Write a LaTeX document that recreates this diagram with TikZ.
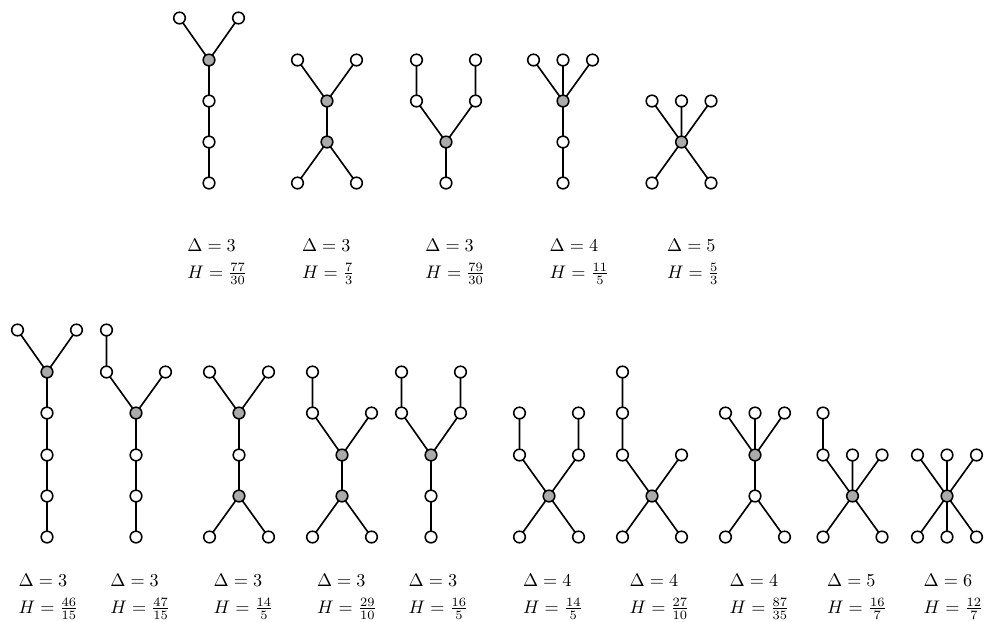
\documentclass[tikz,border=0pt]{standalone}
\usetikzlibrary{backgrounds}
\begin{document}
\begin{tikzpicture}[x=0.55pt,y=-0.55pt,
  w/.style={circle,draw=black,line width=0.85pt,fill=white,inner sep=0pt,minimum size=6.4pt},
  g/.style={w,fill=black!33},
  e/.style={line width=0.9pt},
  lab/.style={anchor=north west,inner sep=0pt,align=left,font=\normalsize}]
\useasboundingbox (0,0) rectangle (990,621);
% ---------- top row ----------
% T1
\node[w] (t1a) at (179.5,18) {};
\node[w] (t1b) at (238.5,18) {};
\node[g] (t1c) at (209,60) {};
\node[w] (t1d) at (209,101) {};
\node[w] (t1e) at (209,142) {};
\node[w] (t1f) at (209,183) {};
% T2
\node[w] (t2a) at (297.5,60) {};
\node[w] (t2b) at (356.5,60) {};
\node[g] (t2c) at (327,101) {};
\node[g] (t2d) at (327,142) {};
\node[w] (t2e) at (297.5,183) {};
\node[w] (t2f) at (356.5,183) {};
% T3
\node[w] (t3a) at (416.5,60) {};
\node[w] (t3b) at (475.5,60) {};
\node[w] (t3c) at (416.5,101) {};
\node[w] (t3d) at (475.5,101) {};
\node[g] (t3g) at (446,142) {};
\node[w] (t3h) at (446,183) {};
% T4
\node[w] (t4a) at (533.5,60) {};
\node[w] (t4b) at (563,60) {};
\node[w] (t4c) at (592.5,60) {};
\node[g] (t4g) at (563,101) {};
\node[w] (t4d) at (563,142) {};
\node[w] (t4e) at (563,183) {};
% T5
\node[w] (t5a) at (652,101) {};
\node[w] (t5b) at (681.5,101) {};
\node[w] (t5c) at (711,101) {};
\node[g] (t5g) at (681.5,142) {};
\node[w] (t5d) at (652,183) {};
\node[w] (t5e) at (711,183) {};
% ---------- bottom row ----------
% B1
\node[w] (b1a) at (17.5,330) {};
\node[w] (b1b) at (76.5,330) {};
\node[g] (b1c) at (47,372) {};
\node[w] (b1d) at (47,413) {};
\node[w] (b1e) at (47,455) {};
\node[w] (b1f) at (47,496) {};
\node[w] (b1h) at (47,537) {};
% B2
\node[w] (b2a) at (106.5,330) {};
\node[w] (b2b) at (106.5,372) {};
\node[w] (b2c) at (165.5,372) {};
\node[g] (b2g) at (136,413) {};
\node[w] (b2d) at (136,455) {};
\node[w] (b2e) at (136,496) {};
\node[w] (b2f) at (136,537) {};
% B3
\node[w] (b3a) at (209.5,372) {};
\node[w] (b3b) at (268.5,372) {};
\node[g] (b3c) at (239,413) {};
\node[w] (b3d) at (239,455) {};
\node[g] (b3e) at (239,496) {};
\node[w] (b3f) at (209.5,537) {};
\node[w] (b3h) at (268.5,537) {};
% B4
\node[w] (b4a) at (312.5,372) {};
\node[w] (b4b) at (312.5,413) {};
\node[w] (b4c) at (371.5,413) {};
\node[g] (b4d) at (342,455) {};
\node[g] (b4e) at (342,496) {};
\node[w] (b4f) at (312.5,537) {};
\node[w] (b4h) at (371.5,537) {};
% B5
\node[w] (b5a) at (401.5,372) {};
\node[w] (b5b) at (460.5,372) {};
\node[w] (b5c) at (401.5,413) {};
\node[w] (b5d) at (460.5,413) {};
\node[g] (b5g) at (431,455) {};
\node[w] (b5e) at (431,496) {};
\node[w] (b5f) at (431,537) {};
% B6
\node[w] (b6a) at (519.5,413) {};
\node[w] (b6b) at (578.5,413) {};
\node[w] (b6c) at (519.5,455) {};
\node[w] (b6d) at (578.5,455) {};
\node[g] (b6g) at (549,496) {};
\node[w] (b6e) at (519.5,537) {};
\node[w] (b6f) at (578.5,537) {};
% B7
\node[w] (b7a) at (622.5,372) {};
\node[w] (b7b) at (622.5,413) {};
\node[w] (b7c) at (622.5,455) {};
\node[w] (b7d) at (681.5,455) {};
\node[g] (b7g) at (652,496) {};
\node[w] (b7e) at (622.5,537) {};
\node[w] (b7f) at (681.5,537) {};
% B8
\node[w] (b8a) at (725.5,413) {};
\node[w] (b8b) at (755,413) {};
\node[w] (b8c) at (784.5,413) {};
\node[g] (b8g) at (755,455) {};
\node[w] (b8d) at (755,496) {};
\node[w] (b8e) at (725.5,537) {};
\node[w] (b8f) at (784.5,537) {};
% B9
\node[w] (b9a) at (823,413) {};
\node[w] (b9b) at (823,455) {};
\node[w] (b9c) at (852.5,455) {};
\node[w] (b9d) at (882,455) {};
\node[g] (b9g) at (852.5,496) {};
\node[w] (b9e) at (823,537) {};
\node[w] (b9f) at (882,537) {};
% B10
\node[w] (c0a) at (917.5,455) {};
\node[w] (c0b) at (947,455) {};
\node[w] (c0c) at (976.5,455) {};
\node[g] (c0g) at (947,496) {};
\node[w] (c0d) at (917.5,537) {};
\node[w] (c0e) at (947,537) {};
\node[w] (c0f) at (976.5,537) {};
% ---------- edges (behind nodes) ----------
\begin{pgfonlayer}{background}
\draw[e] (t1a.center)--(t1c.center) (t1b.center)--(t1c.center) (t1c.center)--(t1d.center) (t1d.center)--(t1e.center) (t1e.center)--(t1f.center);
\draw[e] (t2a.center)--(t2c.center) (t2b.center)--(t2c.center) (t2c.center)--(t2d.center) (t2d.center)--(t2e.center) (t2d.center)--(t2f.center);
\draw[e] (t3a.center)--(t3c.center) (t3b.center)--(t3d.center) (t3c.center)--(t3g.center) (t3d.center)--(t3g.center) (t3g.center)--(t3h.center);
\draw[e] (t4a.center)--(t4g.center) (t4b.center)--(t4g.center) (t4c.center)--(t4g.center) (t4g.center)--(t4d.center) (t4d.center)--(t4e.center);
\draw[e] (t5a.center)--(t5g.center) (t5b.center)--(t5g.center) (t5c.center)--(t5g.center) (t5g.center)--(t5d.center) (t5g.center)--(t5e.center);
\draw[e] (b1a.center)--(b1c.center) (b1b.center)--(b1c.center) (b1c.center)--(b1d.center) (b1d.center)--(b1e.center) (b1e.center)--(b1f.center) (b1f.center)--(b1h.center);
\draw[e] (b2a.center)--(b2b.center) (b2b.center)--(b2g.center) (b2c.center)--(b2g.center) (b2g.center)--(b2d.center) (b2d.center)--(b2e.center) (b2e.center)--(b2f.center);
\draw[e] (b3a.center)--(b3c.center) (b3b.center)--(b3c.center) (b3c.center)--(b3d.center) (b3d.center)--(b3e.center) (b3e.center)--(b3f.center) (b3e.center)--(b3h.center);
\draw[e] (b4a.center)--(b4b.center) (b4b.center)--(b4d.center) (b4c.center)--(b4d.center) (b4d.center)--(b4e.center) (b4e.center)--(b4f.center) (b4e.center)--(b4h.center);
\draw[e] (b5a.center)--(b5c.center) (b5b.center)--(b5d.center) (b5c.center)--(b5g.center) (b5d.center)--(b5g.center) (b5g.center)--(b5e.center) (b5e.center)--(b5f.center);
\draw[e] (b6a.center)--(b6c.center) (b6b.center)--(b6d.center) (b6c.center)--(b6g.center) (b6d.center)--(b6g.center) (b6g.center)--(b6e.center) (b6g.center)--(b6f.center);
\draw[e] (b7a.center)--(b7b.center) (b7b.center)--(b7c.center) (b7c.center)--(b7g.center) (b7d.center)--(b7g.center) (b7g.center)--(b7e.center) (b7g.center)--(b7f.center);
\draw[e] (b8a.center)--(b8g.center) (b8b.center)--(b8g.center) (b8c.center)--(b8g.center) (b8g.center)--(b8d.center) (b8d.center)--(b8e.center) (b8d.center)--(b8f.center);
\draw[e] (b9a.center)--(b9b.center) (b9b.center)--(b9g.center) (b9c.center)--(b9g.center) (b9d.center)--(b9g.center) (b9g.center)--(b9e.center) (b9g.center)--(b9f.center);
\draw[e] (c0a.center)--(c0g.center) (c0b.center)--(c0g.center) (c0c.center)--(c0g.center) (c0g.center)--(c0d.center) (c0g.center)--(c0e.center) (c0g.center)--(c0f.center);
\end{pgfonlayer}
% ---------- labels ----------
\node[lab] (l1) at (187,239) {$\Delta = 3$\\[2.5pt]$H = \frac{77}{30}$};
\node[lab] (l2) at (301.7,239) {$\Delta = 3$\\[2.5pt]$H = \frac{7}{3}$};
\node[lab] (l3) at (425,239) {$\Delta = 3$\\[2.5pt]$H = \frac{79}{30}$};
\node[lab] (l4) at (549.3,239) {$\Delta = 4$\\[2.5pt]$H = \frac{11}{5}$};
\node[lab] (l5) at (666.7,239) {$\Delta = 5$\\[2.5pt]$H = \frac{5}{3}$};
\node[lab] (m1) at (18.3,574) {$\Delta = 3$\\[2.5pt]$H = \frac{46}{15}$};
\node[lab] (m2) at (110,574) {$\Delta = 3$\\[2.5pt]$H = \frac{47}{15}$};
\node[lab] (m3) at (213.3,574) {$\Delta = 3$\\[2.5pt]$H = \frac{14}{5}$};
\node[lab] (m4) at (316.7,574) {$\Delta = 3$\\[2.5pt]$H = \frac{29}{10}$};
\node[lab] (m5) at (408.3,574) {$\Delta = 3$\\[2.5pt]$H = \frac{16}{5}$};
\node[lab] (m6) at (522.7,574) {$\Delta = 4$\\[2.5pt]$H = \frac{14}{5}$};
\node[lab] (m7) at (629.3,574) {$\Delta = 4$\\[2.5pt]$H = \frac{27}{10}$};
\node[lab] (m8) at (729.3,574) {$\Delta = 4$\\[2.5pt]$H = \frac{87}{35}$};
\node[lab] (m9) at (826.7,574) {$\Delta = 5$\\[2.5pt]$H = \frac{16}{7}$};
\node[lab] (m10) at (923.3,574) {$\Delta = 6$\\[2.5pt]$H = \frac{12}{7}$};
\end{tikzpicture}
\end{document}
